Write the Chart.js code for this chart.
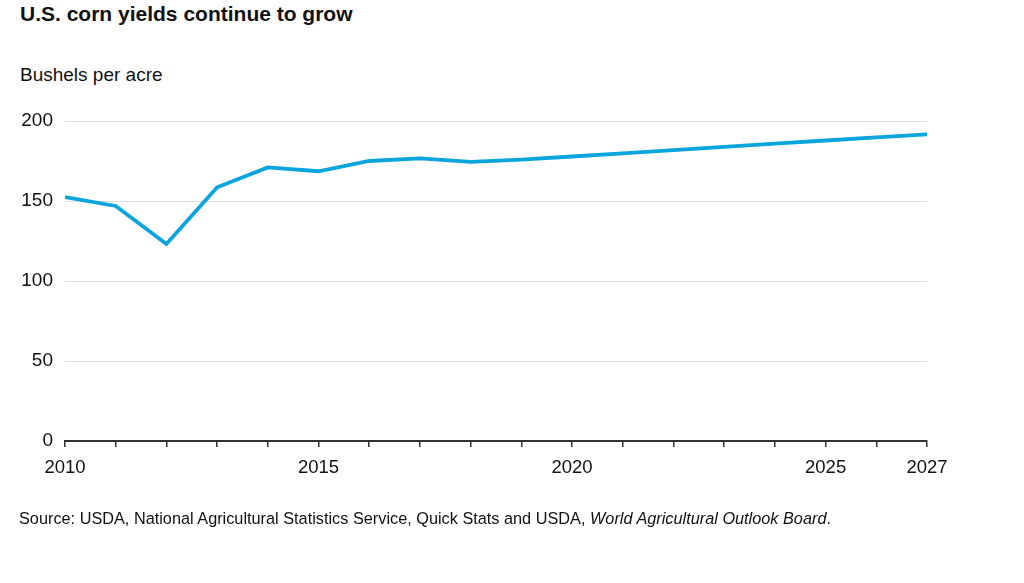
<!DOCTYPE html>
<html>
<head>
<meta charset="utf-8">
<script src="https://cdn.jsdelivr.net/npm/chart.js@4/dist/chart.umd.min.js"></script>
<style>
  html, body { margin: 0; padding: 0; background: #fff; }
  body { width: 1024px; height: 583px; position: relative; overflow: hidden;
         font-family: "Liberation Sans", Arial, sans-serif; color: #111; }
  #title { position: absolute; left: 20px; top: 2px; font-size: 21px; font-weight: bold; }
  #unit { position: absolute; left: 20px; top: 64px; font-size: 19px; }
  #source { position: absolute; left: 19px; top: 509px; font-size: 16.3px; }
  #wrap { position: absolute; left: 0; top: 0; width: 1024px; height: 583px; }
</style>
</head>
<body>
<div id="title">U.S. corn yields continue to grow</div>
<div id="unit">Bushels per acre</div>
<div id="wrap"><canvas id="chart"></canvas></div>
<div id="source">Source: USDA, National Agricultural Statistics Service, Quick Stats and USDA, <i>World Agricultural Outlook Board</i>.</div>
<script>
// Data
const years = [2010, 2011, 2012, 2013, 2014, 2015, 2016, 2017, 2018, 2019, 2020, 2021, 2022, 2023, 2024, 2025, 2026, 2027];
const yields = [152.4, 146.9, 123.1, 158.6, 171.0, 168.6, 175.0, 176.7, 174.4, 175.8, 177.8, 179.8, 181.8, 183.8, 185.8, 187.8, 189.8, 191.7];
const labeledYears = [2010, 2015, 2020, 2025, 2027];
const yTicks = [0, 50, 100, 150, 200];

document.addEventListener('DOMContentLoaded', function() {
  const ctx = document.getElementById('chart').getContext('2d');
  new Chart(ctx, {
    type: 'line',
    data: {
      datasets: [{
        data: years.map((y, i) => ({ x: y, y: yields[i] })),
        borderColor: '#0aa5dc',
        borderWidth: 3.8,
        pointRadius: 0,
        tension: 0,
        borderJoinStyle: 'miter',
        borderCapStyle: 'butt'
      }]
    },
    options: {
      responsive: true,
      maintainAspectRatio: false,
      animation: false,
      layout: { padding: { left: 0, top: 121, right: 97, bottom: 102 } },
      plugins: {
        legend: { display: false },
        tooltip: { enabled: false }
      },
      scales: {
        x: {
          type: 'linear',
          min: 2010,
          max: 2027,
          afterBuildTicks: scale => { scale.ticks = years.map(v => ({ value: v })); },
          afterFit: scale => { scale.height = 40; },
          grid: { drawOnChartArea: false, drawTicks: true, tickLength: 6, tickColor: '#333', lineWidth: 1.5 },
          border: { display: true, color: '#333', width: 2 },
          ticks: {
            autoSkip: false,
            maxRotation: 0,
            padding: 10,
            color: '#111',
            font: { family: '"Liberation Sans", Arial, sans-serif', size: 18.5 },
            callback: v => labeledYears.includes(v) ? String(v) : ''
          }
        },
        y: {
          min: 0,
          max: 200,
          afterBuildTicks: scale => { scale.ticks = yTicks.map(v => ({ value: v })); },
          afterFit: scale => { scale.width = 65; },
          grid: { color: '#dedede', lineWidth: 1, drawTicks: false, tickLength: 0 },
          border: { display: false },
          ticks: {
            padding: 12,
            color: '#111',
            font: { family: '"Liberation Sans", Arial, sans-serif', size: 19 }
          }
        }
      }
    }
  });
});
</script>
</body>
</html>
